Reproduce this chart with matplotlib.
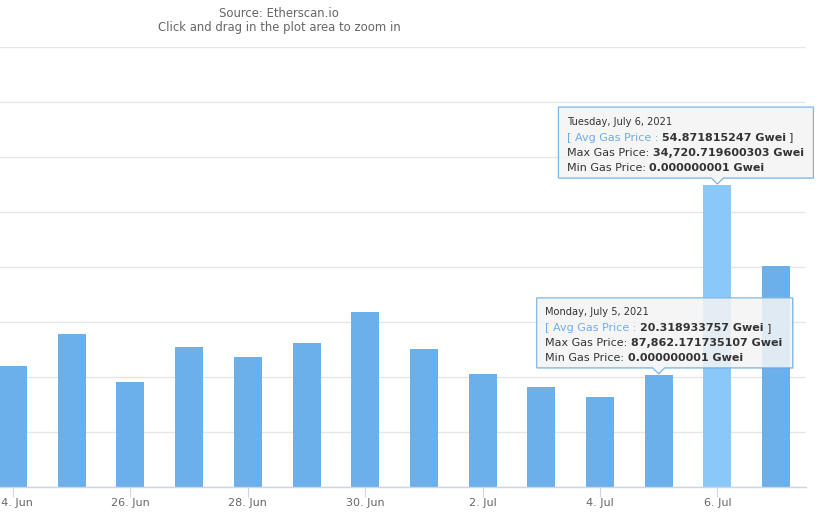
import matplotlib
matplotlib.use("Agg")
import matplotlib.pyplot as plt
from matplotlib.patches import Polygon
from matplotlib.transforms import IdentityTransform
import numpy as np

# daily average gas price (Gwei), 24 Jun .. 7 Jul 2021
dates = ["24. Jun", "25. Jun", "26. Jun", "27. Jun", "28. Jun", "29. Jun", "30. Jun",
         "1. Jul", "2. Jul", "3. Jul", "4. Jul", "5. Jul", "6. Jul", "7. Jul"]
avg_gas = [21.9, 27.8, 19.0, 25.4, 23.6, 26.2, 31.8,
           25.0, 20.5, 18.1, 16.3, 20.318933757, 54.871815247, 40.2]
tick_idx = [0, 2, 4, 6, 8, 10, 12]
hover_idx = 12

tip_days = [12, 11]
tip_headers = ["Tuesday, July 6, 2021", "Monday, July 5, 2021"]
tip_avg = ["54.871815247 Gwei", "20.318933757 Gwei"]
tip_max = ["34,720.719600303 Gwei", "87,862.171735107 Gwei"]
tip_min = ["0.000000001 Gwei", "0.000000001 Gwei"]

W, H = 820, 517
fig = plt.figure(figsize=(W / 100, H / 100), dpi=100)
ax = fig.add_axes([0, 30.5 / H, 805.7 / W, (486.5 - 47) / H])

bar_col = "#6cb0eb"
hover_col = "#8ac8f9"
x = np.arange(len(dates))
colors = [hover_col if i == hover_idx else bar_col for i in x]
ax.bar(x, avg_gas, width=0.477, color=colors, zorder=2)

ax.set_xlim(-0.2215, 13.504)
ax.set_ylim(0, 80)
ax.set_yticks(np.arange(0, 81, 10))
ax.yaxis.grid(True, color="#e6e6e6", linewidth=1)
ax.set_axisbelow(True)
ax.tick_params(axis="y", length=0, labelleft=False)
ax.set_xticks(tick_idx)
ax.set_xticklabels([dates[i] for i in tick_idx])
ax.tick_params(axis="x", length=7, width=0.8, color="#ccd6eb", labelcolor="#666666",
               labelsize=8, pad=1)
for s in ["top", "left", "right"]:
    ax.spines[s].set_visible(False)
ax.spines["bottom"].set_color("#ccd6eb")
ax.spines["bottom"].set_linewidth(1)

fig.text(279 / W, 1 - 13.5 / H, "Source: Etherscan.io", ha="center", va="center",
         color="#666666", fontsize=8.4)
fig.text(279 / W, 1 - 28 / H, "Click and drag in the plot area to zoom in", ha="center",
         va="center", color="#666666", fontsize=8.4)

renderer = fig.canvas.get_renderer()
ident = IdentityTransform()


def text_w(s, **kw):
    t = fig.text(0, 0, s, transform=ident, **kw)
    w = t.get_window_extent(renderer).width
    t.remove()
    return w


def put_line(x0, y0, pieces):
    xx = x0
    for s, kw in pieces:
        if s == " ":
            xx += text_w("a a", **kw) - text_w("aa", **kw)
            continue
        fig.text(xx, y0, s, transform=ident, va="baseline", ha="left", zorder=6, **kw)
        xx += text_w(s, **kw)


small = dict(fontsize=7.1, color="#333333")
norm = dict(fontsize=8.0, color="#333333")
bold = dict(fontsize=8.0, color="#333333", fontweight="bold")
blue = dict(fontsize=8.0, color="#6daee8")

# box placement relative to the hovered point (pixels): left offset, width, height
box_geo = [(-159, 255, 71), (-122, 256, 70)]

for k, d in enumerate(tip_days):
    px, py = ax.transData.transform((d, avg_gas[d]))
    dx, bw, bh = box_geo[k]
    L, R = px + dx, px + dx + bw
    B = py + 7
    T = B + bh
    shadow = Polygon([(L + 1, B - 1), (R + 1, B - 1), (R + 1, T - 1), (L + 1, T - 1)],
                     closed=True, transform=ident, facecolor="black", alpha=0.07,
                     edgecolor="none", zorder=4)
    fig.patches.append(shadow)
    callout = Polygon([(L, B), (px - 6, B), (px, py + 1), (px + 6, B), (R, B), (R, T), (L, T)],
                      closed=True, transform=ident, facecolor=(0.97, 0.97, 0.97, 0.85),
                      edgecolor="#7cb5ec", linewidth=0.9, zorder=5)
    fig.patches.append(callout)
    tx = L + 8.5
    put_line(tx, T - 17.5, [(tip_headers[k], small)])
    put_line(tx, T - 33.5, [("[ Avg Gas Price :", blue), (" ", blue),
                            (tip_avg[k], bold), (" ", norm), ("]", norm)])
    put_line(tx, T - 48.5, [("Max Gas Price:", norm), (" ", norm), (tip_max[k], bold)])
    put_line(tx, T - 63.5, [("Min Gas Price:", norm), (" ", norm), (tip_min[k], bold)])

fig.savefig("out.png", dpi=100)
